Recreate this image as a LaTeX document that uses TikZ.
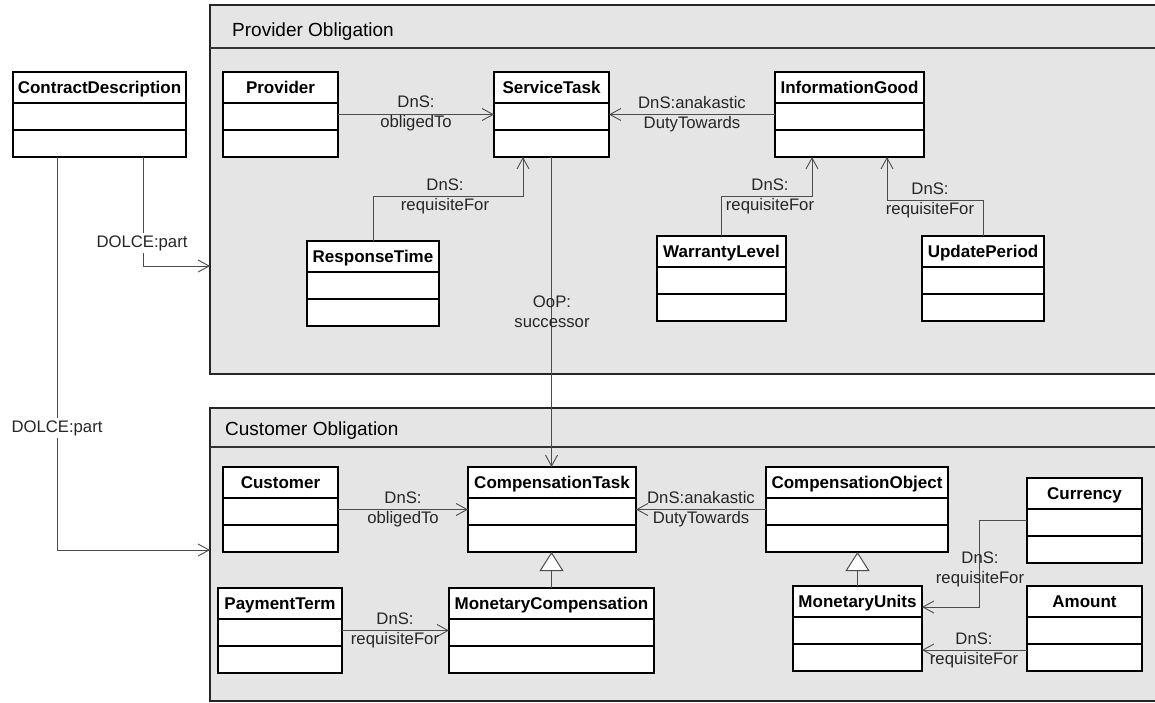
\documentclass[tikz,border=0pt]{standalone}
\usepackage{fontspec}
\setmainfont{Liberation Sans}
\usetikzlibrary{arrows.meta,calc}

\tikzset{
  pkg/.style={draw=black!85, line width=1.4pt, fill=black!10, inner sep=0pt, outer sep=0pt, anchor=north west},
  pkgtitle/.style={font=\fontsize{19}{23}\selectfont, anchor=base west, inner sep=0pt},
  classbox/.style={draw=black, line width=1.3pt, fill=white, minimum height=85pt, inner sep=0pt, outer sep=0pt, anchor=north west},
  classname/.style={font=\fontsize{17}{20}\selectfont\bfseries, anchor=base, inner sep=0pt},
  sepline/.style={draw=black, line width=1.3pt},
  assoc/.style={draw=black!70, line width=0.9pt, -{Straight Barb[length=11pt,width=12pt,line width=0.9pt]}},
  gen/.style={draw=black!70, line width=0.9pt, -{Triangle[length=19pt,width=24pt,fill=white,line width=1pt]}},
  rel/.style={font=\fontsize{16.7}{20}\selectfont, align=center, inner sep=0pt, text=black!85},
  partlabel/.style={rel, fill=white, inner xsep=1pt, inner ysep=2pt},
}

% A UML class: name, top-left x, top-left y, width, title
\newcommand\umlclass[5]{%
  \node[classbox, minimum width=#4pt] (#1) at (#2,#3) {};
  \node[classname] (#1-title) at ($(#1.north)+(0,21)$) {#5};
  \draw[sepline] ($(#1.north west)+(0,31)$) -- ($(#1.north east)+(0,31)$);
  \draw[sepline] ($(#1.north west)+(0,58)$) -- ($(#1.north east)+(0,58)$);
}

\begin{document}
\begin{tikzpicture}[x=1pt, y=-1pt]
\useasboundingbox (0,0) rectangle (1155,702);

% packages
\node[pkg, minimum width=950pt, minimum height=369pt] (ppkg) at (210,5) {};
\draw[black!80, line width=1.6pt] ($(ppkg.north west)+(0,43)$) -- ($(ppkg.north east)+(0,43)$);
\node[pkgtitle] (ppkg-title) at (232,36) {Provider Obligation};

\node[pkg, minimum width=950pt, minimum height=293pt] (cpkg) at (210,408) {};
\draw[black!80, line width=1.6pt] ($(cpkg.north west)+(0,39)$) -- ($(cpkg.north east)+(0,39)$);
\node[pkgtitle] (cpkg-title) at (225,435) {Customer Obligation};

% classes
\umlclass{cd}{13}{72}{173}{ContractDescription}
\umlclass{prov}{223}{72}{115}{Provider}
\umlclass{svc}{494}{72}{115}{ServiceTask}
\umlclass{ig}{775}{72}{149}{InformationGood}
\umlclass{rt}{307}{241}{132}{ResponseTime}
\umlclass{wl}{657}{236}{129}{WarrantyLevel}
\umlclass{up}{922}{236}{122}{UpdatePeriod}

\umlclass{cust}{223}{467}{115}{Customer}
\umlclass{ctask}{468}{467}{168}{CompensationTask}
\umlclass{cobj}{766}{467}{182}{CompensationObject}
\umlclass{cur}{1027}{478}{115}{Currency}
\umlclass{amt}{1027}{586}{115}{Amount}
\umlclass{mu}{793}{586}{129}{MonetaryUnits}
\umlclass{mc}{449}{588}{205}{MonetaryCompensation}
\umlclass{pt}{218}{588}{124}{PaymentTerm}

% contract parts
\draw[assoc] ($(cd.south)+(43.5,0)$) |- ($(ppkg.north west)+(0,261)$);
\draw[assoc] ($(cd.south)+(-42.5,0)$) |- ($(cpkg.north west)+(0,142)$);
\node[partlabel] at (142,243) {DOLCE:part};
\node[partlabel] at (57,428) {DOLCE:part};

% provider obligation
\draw[assoc] (prov.east) -- (svc.west);
\node[rel] at (416,113.5) {DnS:\\obligedTo};
\draw[assoc] (ig.west) -- (svc.east);
\node[rel] at (692,114) {DnS:anakastic\\DutyTowards};
\draw[assoc] (rt.north) |- ($(svc.south)+(-28.5,39)$) -- ($(svc.south)+(-28.5,0)$);
\node[rel] at (445,196.5) {DnS:\\requisiteFor};
\draw[assoc] (wl.north) |- ($(ig.south)+(-37.5,39)$) -- ($(ig.south)+(-37.5,0)$);
\node[rel] at (770,196.5) {DnS:\\requisiteFor};
\draw[assoc] (up.north) |- ($(ig.south)+(37.5,43)$) -- ($(ig.south)+(37.5,0)$);
\node[rel] at (930,200.5) {DnS:\\requisiteFor};

% succession between the tasks
\draw[assoc] (svc.south) -- (svc.south |- ctask.north);
\node[rel] at (552,312) {OoP:\\successor};

% customer obligation
\draw[assoc] (cust.east) -- (ctask.west);
\node[rel] at (403,509) {DnS:\\obligedTo};
\draw[assoc] (cobj.west) -- (ctask.east);
\node[rel] at (701,509) {DnS:anakastic\\DutyTowards};
\draw[gen] (mc.north) -- (mc.north |- ctask.south);
\draw[gen] (mu.north) -- (mu.north |- cobj.south);
\draw[assoc] (pt.east) -- (mc.west);
\node[rel] at (395,630) {DnS:\\requisiteFor};
\draw[assoc] (cur.west) -- ++(-48,0) |- ($(mu.north east)+(0,21)$);
\node[rel] at (980,569.5) {DnS:\\requisiteFor};
\draw[assoc] ($(amt.north west)+(0,64)$) -- ($(mu.north east)+(0,64)$);
\node[rel] at (974,650) {DnS:\\requisiteFor};
\end{tikzpicture}
\end{document}
